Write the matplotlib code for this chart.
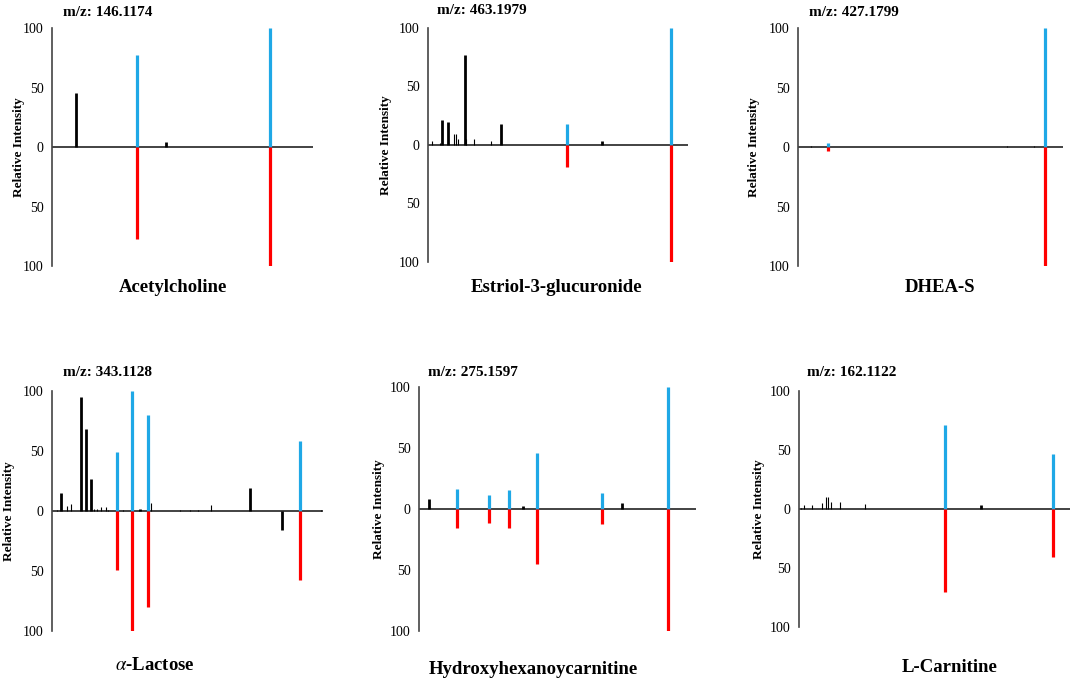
import numpy as np
import matplotlib
matplotlib.use("Agg")
import matplotlib.pyplot as plt

plt.rcParams['font.family'] = ['Liberation Serif', 'DejaVu Serif']
plt.rcParams['mathtext.fontset'] = 'stix'

W, H = 1072, 683

# compound names and precursor m/z
names = ["Acetylcholine", "Estriol-3-glucuronide", "DHEA-S",
         r"$\alpha$-Lactose", "Hydroxyhexanoycarnitine", "L-Carnitine"]
mz = ["146.1174", "463.1979", "427.1799", "343.1128", "275.1597", "162.1122"]

# relative m/z position (0-100 across the axis) and intensity
# unmatched experimental peaks, main ones
black_x = [[9.2, 43.8],
           [5.4, 7.7, 14.2, 28.2, 66.8],
           [],
           [3.2, 10.8, 12.7, 14.5, 32.3, 73.1, 85.0],
           [3.7, 37.4, 73.4],
           [67.0]]
black_h = [[45, 4],
           [21, 20, 77, 18, 3],
           [],
           [15, 95, 68, 27, 2, 19, -16],
           [8, 2.7, 5],
           [3]]
# small noise peaks
minor_x = [[],
           [1.7, 4.5, 10.0, 10.8, 11.7, 14.7, 17.8, 24.1],
           [4.9, 78.9, 89.0],
           [1.8, 5.7, 7.0, 15.5, 16.6, 18.2, 20.0, 20.6, 26.2, 36.7, 47.1, 50.8, 53.9, 58.8, 99.4],
           [],
           [0.9, 2.0, 4.7, 8.5, 10.1, 10.8, 11.9, 15.2, 24.2]]
minor_h = [[],
           [3.5, 2, 9.5, 9.5, 5.5, 5.5, 5.5, 3.5],
           [0.5, 0.5, 0.5],
           [1, 4, 6, 2, 2, 3, 3, 1, 0.5, 7, 0.5, 0.5, 0.5, 5, 0.5],
           [],
           [1, 3, 3, 5, 10, 10, 6, 6, 4]]
# matched peaks: experimental (up, blue) vs library (down, red)
match_x = [[32.4, 83.7],
           [53.6, 93.6],
           [11.5, 93.2],
           [23.9, 29.7, 35.3, 91.6],
           [13.7, 25.4, 32.6, 42.7, 66.2, 89.9],
           [53.7, 93.7]]
exp_h = [[77, 100],
         [18, 100],
         [3, 100],
         [49, 100, 80, 58],
         [16, 11.7, 15.8, 46, 13.4, 100],
         [71, 46.5]]
lib_h = [[77, 100],
         [19, 100],
         [3.5, 100],
         [49, 100, 80, 57.5],
         [15.6, 11.5, 15.3, 45, 12.6, 100],
         [70, 41]]

# axes boxes in pixels: left, right, top, bottom
boxes = [(52, 313, 28, 266), (428, 688, 28, 262), (798, 1063, 28, 266),
         (52, 323, 391, 631), (419, 696, 387, 631), (799, 1070, 391, 627)]
ylab_off = [27, 36, 38, 37, 34, 34]
title_xy = [(63, 12), (437, 11), (809, 12), (63, 372), (428, 372), (807, 372)]
name_xy = [(173, 287), (557, 287), (940, 287), (155, 665), (533, 670), (950, 668)]

blue = '#1fa8e6'
red = '#ff0000'

fig = plt.figure(figsize=(W / 100, H / 100), dpi=100)

for i in range(6):
    l, r, t, b = boxes[i]
    ax = fig.add_axes([l / W, 1 - b / H, (r - l) / W, (b - t) / H])
    ax.vlines(match_x[i], 0, exp_h[i], color=blue, linewidth=2.3)
    ax.vlines(match_x[i], 0, -np.array(lib_h[i]), color=red, linewidth=2.3)
    ax.vlines(black_x[i], 0, black_h[i], color='black', linewidth=2.0)
    ax.vlines(minor_x[i], 0, minor_h[i], color='black', linewidth=0.8)
    ax.axhline(0, color='#222222', linewidth=1.2, zorder=0)

    ax.set_xlim(0, 100)
    ax.set_ylim(-100, 100)
    for s in ['top', 'right', 'bottom']:
        ax.spines[s].set_visible(False)
    ax.spines['left'].set_color('#444444')
    ax.spines['left'].set_linewidth(1.2)
    ax.set_xticks([])
    ax.set_yticks([100, 50, 0, -50, -100])
    ax.set_yticklabels(['100', '50', '0', '50', '100'])
    ax.tick_params(axis='y', length=0, pad=6, labelsize=10)
    ax.set_ylabel("Relative Intensity", fontsize=9.5, fontweight='bold')
    ax.yaxis.set_label_coords(-ylab_off[i] / (r - l), 0.5)
    ax.patch.set_alpha(0)

    tx, ty = title_xy[i]
    fig.text(tx / W, 1 - ty / H, "m/z: " + mz[i], fontsize=11, fontweight='bold',
             ha='left', va='center')
    nx, ny = name_xy[i]
    fig.text(nx / W, 1 - ny / H, names[i], fontsize=13.5, fontweight='bold',
             ha='center', va='center')

plt.savefig("out.png", dpi=100)
